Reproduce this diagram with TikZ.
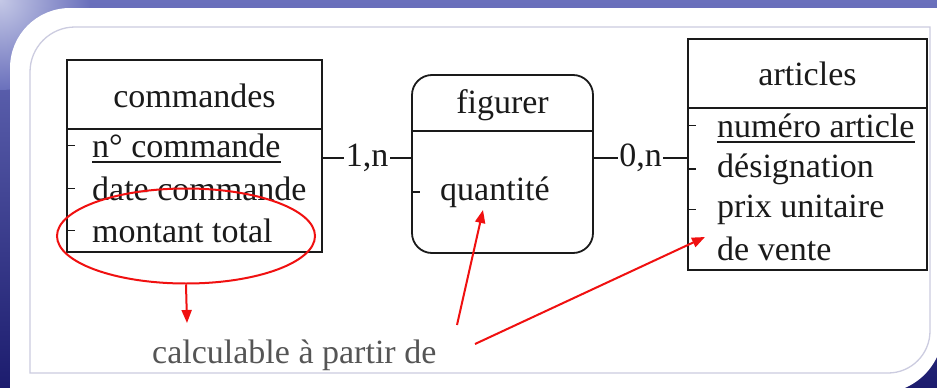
\documentclass[tikz,border=0pt]{standalone}
\usepackage{fontspec}
\setmainfont{Liberation Serif}
\newfontfamily\tnr{Liberation Serif}
\usetikzlibrary{arrows.meta,shapes.geometric,calc}
\definecolor{bgtop}{HTML}{6A70BC}
\definecolor{bgbot}{HTML}{1C1C6E}
\definecolor{bglight}{HTML}{C4C8E6}
\definecolor{framec}{HTML}{CCCCE0}
\definecolor{redann}{HTML}{F01010}
\definecolor{ink}{HTML}{1A1A1A}
\definecolor{note}{HTML}{555555}
\begin{document}
\begin{tikzpicture}[x=1pt,y=-1pt,
 box/.style={draw=ink,line width=1.8pt,inner sep=0pt},
 lbl/.style={font=\tnr\fontsize{34}{40}\selectfont,text=ink,inner sep=0pt},
 tickmark/.style={draw=ink,line width=1.5pt},
 hline/.style={draw=ink,line width=1.8pt},
 uline/.style={draw=ink,line width=1.6pt},
 link/.style={draw=ink,line width=1.5pt},
 card/.style={fill=white,inner sep=1.5pt,font=\tnr\fontsize{34}{40}\selectfont,text=ink},
 redarrow/.style={draw=redann,line width=2pt,-{Triangle[length=13pt,width=10pt]}},
]
\useasboundingbox (0,0) rectangle (937,388);
% background
\shade[top color=bgtop,bottom color=bgbot] (0,0) rectangle (937,388);
\begin{scope}
\clip (0,0) rectangle (937,388);
\shade[inner color=bglight, outer color=bgtop] (0,0) circle (90);
\end{scope}
% white panel
\fill[white] (10,393) -- (10,68) arc[start angle=180,end angle=270,radius=60]
  -- (943,8) -- (943,330) arc[start angle=0,end angle=90,radius=63] -- cycle;
% inner frame
\draw[framec,line width=1.3pt] (30,373) -- (30,72) arc[start angle=180,end angle=270,radius=45]
  -- (930,27) -- (930,331) arc[start angle=0,end angle=90,radius=42] -- cycle;

% entity boxes
\node[box, minimum width=255pt, minimum height=192pt] (cmd) at (194.5,156) {};
\node[box, rounded corners=20pt, minimum width=181pt, minimum height=178pt] (fig) at (502.5,164) {};
\node[box, minimum width=239pt, minimum height=231pt] (art) at (807.5,154.5) {};

% header separators
\coordinate (hc) at (0,129);
\coordinate (hf) at (0,131);
\coordinate (ha) at (0,108);
\draw[hline] (cmd.west |- hc) -- (cmd.east |- hc);
\draw[hline] (fig.west |- hf) -- (fig.east |- hf);
\draw[hline] (art.west |- ha) -- (art.east |- ha);

% titles
\node[lbl, anchor=base] (cmdT) at (194.5,107) {commandes};
\node[lbl, anchor=base] (figT) at (502.5,113) {figurer};
\node[lbl, anchor=base] (artT) at (807.5,85) {articles};

% commandes attributes
\node[lbl, anchor=base west] (c1) at (92,157) {n° commande};
\node[lbl, anchor=base west] (c2) at (92,200) {date commande};
\node[lbl, anchor=base west] (c3) at (92,242) {montant total};
\draw[uline] ([yshift=-5pt]c1.base west) -- ([yshift=-5pt]c1.base east);
\draw[tickmark] (cmd.west |- c1) -- ++(9,0);
\draw[tickmark] (cmd.west |- c2) -- ++(9,0);
\draw[tickmark] (cmd.west |- c3) -- ++(9,0);

% figurer attribute
\node[lbl, anchor=base west] (f1) at (440,200) {quantité};
\draw[tickmark] (fig.west |- f1) -- ++(9,0);

% articles attributes
\node[lbl, anchor=base west] (a1) at (717,137) {numéro article};
\node[lbl, anchor=base west] (a2) at (717,177) {désignation};
\node[lbl, anchor=base west] (a3) at (717,217) {prix unitaire};
\node[lbl, anchor=base west] (a4) at (717,260) {de vente};
\draw[uline] ([yshift=-5pt]a1.base west) -- ([yshift=-5pt]a1.base east);
\draw[tickmark] (art.west |- a1) -- ++(9,0);
\draw[tickmark] (art.west |- a2) -- ++(9,0);
\draw[tickmark] (art.west |- a3) -- ++(9,0);

% links with cardinalities
\coordinate (rowA) at (0,158);
\draw[link] (cmd.east |- rowA) -- node[card] (k1) {1,n} (fig.west |- rowA);
\draw[link] (fig.east |- rowA) -- node[card] (k2) {0,n} (art.west |- rowA);

% red annotations
\node[draw=redann, line width=2pt, ellipse, minimum width=258pt, minimum height=95pt, inner sep=0pt] (ell) at (186,236) {};
\node[lbl, text=note, anchor=base west] (calc) at (152,363) {calculable à partir de};
\coordinate (t1) at (187,323);
\coordinate (s2) at (457,325);
\coordinate (t2) at (483,210);
\coordinate (s3) at (475,344);
\coordinate (t3) at (705,237);
\draw[redarrow] (ell.south) -- (t1);
\draw[redarrow] (s2) -- (t2);
\draw[redarrow] (s3) -- (t3);
\end{tikzpicture}
\end{document}
